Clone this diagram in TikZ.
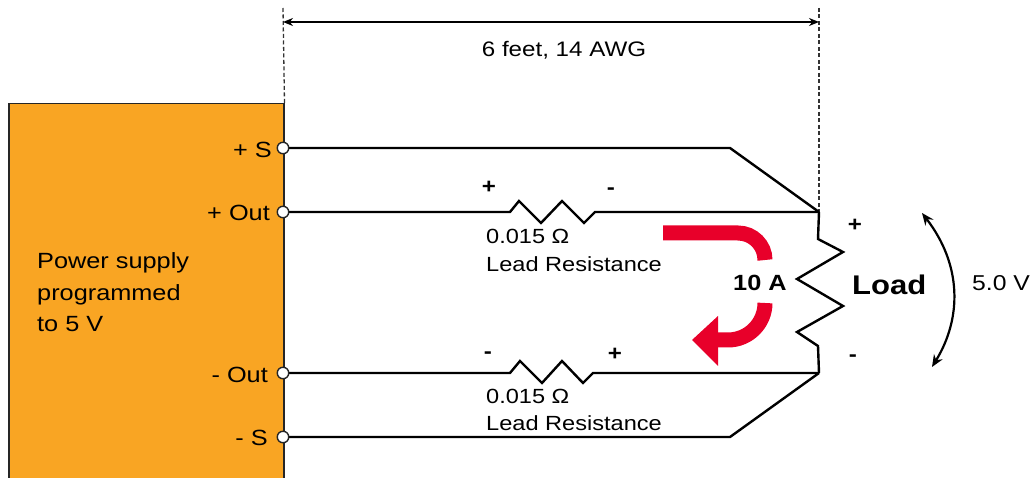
\documentclass[tikz,border=0pt]{standalone}
\usepackage{fontspec}
\setmainfont{Liberation Sans}[FakeStretch=1.15]
\usetikzlibrary{arrows.meta}
\definecolor{psorange}{RGB}{249,165,35}
\definecolor{arrred}{RGB}{232,0,42}
\begin{document}
\begin{tikzpicture}[x=1pt,y=1pt,
  wire/.style={line width=2.4pt, line join=miter, line cap=butt},
  term/.style={circle, draw=black!85, fill=white, line width=1.4pt, minimum size=11.5pt, inner sep=0pt},
  psbox/.style={draw=black!85, fill=psorange, line width=1.5pt, anchor=north west, inner sep=0pt, minimum width=275pt, minimum height=380pt},
  dimline/.style={black!80, line width=1.3pt, dash pattern=on 4pt off 2.5pt},
  lbl/.style={inner sep=0pt, font=\fontsize{21}{25}\selectfont},
  pslbl/.style={inner sep=0pt, anchor=base west, font=\fontsize{22}{26}\selectfont},
  sign/.style={inner sep=0pt, font=\fontsize{21}{25}\selectfont\bfseries},
  dimarrow/.style={arrows={Stealth[length=10pt,width=8pt]-Stealth[length=10pt,width=8pt]}, line width=2pt},
  voltarrow/.style={arrows={Stealth[length=12pt,width=10pt]-Stealth[length=12pt,width=10pt]}, line width=2.2pt},
  redband/.style={arrred, line width=15pt, line cap=butt}
]
\useasboundingbox (0,0) rectangle (1034,-478);

% power supply box
\node[psbox] (ps) at (8,-103) {};
\node[pslbl] (t1) at (37,-269) {Power supply};
\node[pslbl] (t2) at (37,-300.5) {programmed};
\node[pslbl] (t3) at (37,-332) {to 5 V};

% dimension
\coordinate (lt) at (819,-212);
\coordinate (lb) at (819,-373);
\coordinate (dtl) at (283,-8);
\coordinate (dtr) at (819,-8);
\coordinate (da) at (283,-22);
\coordinate (db) at (819,-22);
\draw[dimline] (dtl) -- (ps.north east);
\draw[dimline] (dtr) -- (lt);
\draw[dimarrow] (da) -- (db);
\node[lbl, anchor=base] (len) at (564,-57) {6 feet, 14 AWG};

% wires
\coordinate (psk) at (730,-148);
\coordinate (msk) at (730,-437);
\draw[wire] (283,-148) -- (psk) -- (lt);
\draw[wire] (283,-212) -- (510,-212) -- (519,-201) -- (541,-223) -- (562,-201) -- (584,-223) -- (595,-212) -- (lt);
\draw[wire] (lt) -- (818,-239) -- (843,-252) -- (797,-279) -- (843,-306) -- (797,-332) -- (818,-346) -- (lb);
\draw[wire] (283,-373) -- (510,-373) -- (520,-361) -- (542,-383) -- (562,-361) -- (583,-383) -- (593,-373) -- (lb);
\draw[wire] (283,-437) -- (msk) -- (lb);

% terminals
\node[term] (tps) at (283,-148) {};
\node[term] (tpo) at (283,-212) {};
\node[term] (tmo) at (283,-373) {};
\node[term] (tms) at (283,-437) {};
\node[lbl, anchor=base east, font=\fontsize{22}{26}\selectfont] (lps) at (272,-158) {+ S};
\node[lbl, anchor=base east, font=\fontsize{22}{26}\selectfont] (lpo) at (270,-221) {+ Out};
\node[lbl, anchor=base east, font=\fontsize{22}{26}\selectfont] (lmo) at (268,-383) {- Out};
\node[lbl, anchor=base east, font=\fontsize{22}{26}\selectfont] (lms) at (268,-445) {- S};

% lead resistance labels
\node[sign] (s1) at (489,-187) {+};
\node[sign] (s2) at (611,-191) {-};
\node[lbl, anchor=base west, font=\fontsize{20.5}{25}\selectfont] (r1a) at (486,-244) {0.015 Ω};
\node[lbl, anchor=base west, font=\fontsize{20.5}{25}\selectfont] (r1b) at (486,-272) {Lead Resistance};
\node[sign] (s3) at (488,-355) {-};
\node[sign] (s4) at (615,-354) {+};
\node[lbl, anchor=base west, font=\fontsize{20.5}{25}\selectfont] (r2a) at (486,-403) {0.015 Ω};
\node[lbl, anchor=base west, font=\fontsize{20.5}{25}\selectfont] (r2b) at (486,-430) {Lead Resistance};

% load labels
\node[sign] (lp) at (855,-225) {+};
\node[sign] (lm) at (853,-358) {-};
\node[lbl, anchor=base west, font=\fontsize{27}{30}\selectfont\bfseries] (load) at (852,-295) {Load};
\node[lbl, anchor=base west, font=\fontsize{22}{26}\selectfont\bfseries] (amp) at (733,-291) {10 A};
\node[lbl, anchor=base west, font=\fontsize{21.5}{26}\selectfont] (volt) at (972,-291) {5.0 V};

% voltage arrow
\coordinate (va) at (922,-213);
\coordinate (vb) at (932,-367);
\draw[voltarrow] (va) .. controls (962,-265) and (962,-318) .. (vb);

% current arrow
\coordinate (ca) at (663,-233);
\coordinate (cb) at (765,-303);
\draw[redband] (ca) -- (738,-233) arc[start angle=90, end angle=0, radius=27];
\draw[redband] (cb) arc[start angle=0, end angle=-90, radius=37] -- (716,-340);
\fill[arrred] (718,-316) -- (692,-340) -- (718,-366) -- cycle;
\end{tikzpicture}
\end{document}
